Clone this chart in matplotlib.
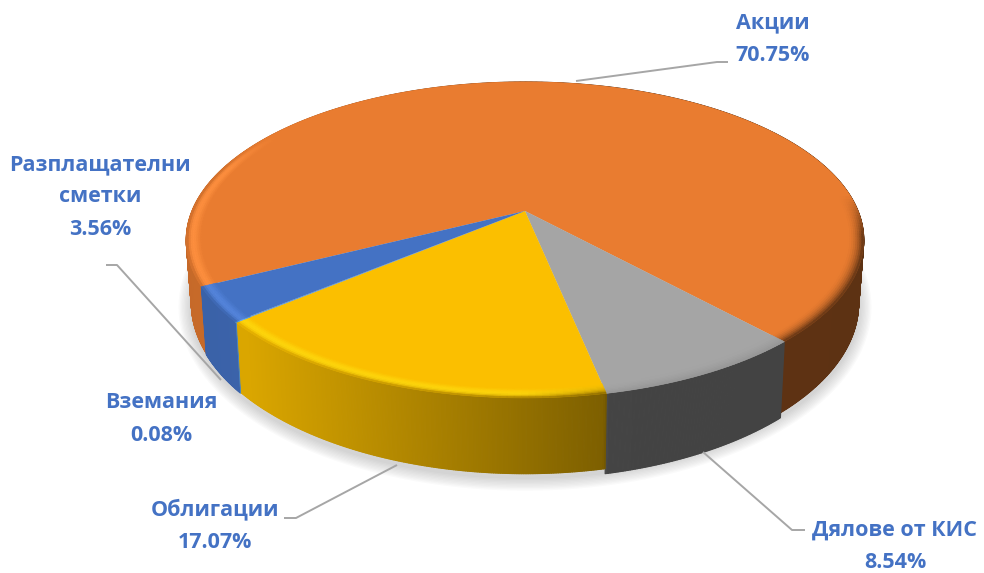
import numpy as np
import matplotlib
matplotlib.use("Agg")
import matplotlib.pyplot as plt
from matplotlib.collections import PolyCollection
from matplotlib.colors import to_rgb

names = ['Акции', 'Дялове от КИС', 'Облигации', 'Вземания', 'Разплащателни\nсметки']
values = [70.75, 8.54, 17.07, 0.08, 3.56]
colors = ['#E97C30', '#A5A5A5', '#FBBF00', '#5B9BD5', '#4472C4']

start_angle = 243.0   # clockwise from the back of the pie
label_pos = [(773, 39), (895, 546), (215, 526), (161, 419), (100, 197)]
leaders = [
    [(576, 81), (717, 62), (728, 62)],
    [(703, 452), (792, 530), (805, 530)],
    [(397, 465), (296, 518), (284, 518)],
    None,
    [(221, 380), (117, 265), (106, 265)],
]
wall_extra = [-1, 4, -1, 0, 0]
bevel_amount = [1.0, 0.15, 1.0, 1.0, 1.0]

plt.rcParams['font.family'] = ['Open Sans', 'DejaVu Sans']

# perspective of the disc: far side is narrower, apex sits above ellipse centre
k = 0.1835


def rim(theta, r=1.0, bottom=False):
    t = np.radians(theta)
    u, v = r * np.sin(t), r * np.cos(t)
    w = 1 + k * v
    if bottom:
        return 525 + 328 * u / w, 272.6 - 165 * v / w
    return 525 + 333 * u / w, 211 - 152.7 * v / w


def wall_shade(x):
    return np.interp(x - 525, [-340, -280, 78, 84, 340], [0.85, 0.87, 0.5, 0.41, 0.40])


def angles(i, per_deg=1):
    return np.linspace(edges[i], edges[i + 1], max(int(values[i] * 3.6 * per_deg), 2) + 1)


fig = plt.figure(figsize=(9.84, 5.73), dpi=100)
ax = fig.add_axes([0, 0, 1, 1])
ax.set_xlim(0, 984)
ax.set_ylim(573, 0)
ax.axis('off')

# soft shadow under the pie
th = np.linspace(0, 360, 361)
sx, sy = rim(th, bottom=True)
for grow in np.linspace(1.0, 13, 10):
    px = 525 + (sx - 525) * (1 + grow / 340)
    py = 300 + (sy - 300) * (1 + grow / 175) + 3
    ax.fill(px, py, color='#7f7f7f', alpha=0.035, lw=0, zorder=1)

edges = start_angle + np.cumsum([0] + values) * 3.6

# side walls
for i, c in enumerate(colors):
    base = np.array(to_rgb(c))
    th = angles(i, 4)
    xt, yt = rim(th)
    xb, yb = rim(th, bottom=True)
    yb = yb + wall_extra[i]
    polys, faces = [], []
    for j in range(len(th) - 1):
        polys.append([(xt[j], yt[j]), (xt[j + 1], yt[j + 1]), (xb[j + 1], yb[j + 1]), (xb[j], yb[j])])
        faces.append(base * wall_shade((xt[j] + xt[j + 1]) / 2))
    ax.add_collection(PolyCollection(polys, facecolors=faces, edgecolors=faces, linewidths=0.8, zorder=2 + 0.1 * i))

# top face
for i, c in enumerate(colors):
    xt, yt = rim(angles(i))
    ax.fill(np.r_[525, xt], np.r_[211, yt], color=c, lw=0, zorder=3)

# rounded edge of the top face
bands = np.linspace(0.955, 1.0, 9)
for i, c in enumerate(colors):
    base = np.array(to_rgb(c))
    light = np.clip(base * 1.06 + 0.05, 0, 1)
    th = angles(i)
    polys, faces = [], []
    for r0, r1 in zip(bands[:-1], bands[1:]):
        x0, y0 = rim(th, r0)
        x1, y1 = rim(th, r1)
        for j in range(len(th) - 1):
            cos_mid = np.cos(np.radians((th[j] + th[j + 1]) / 2))
            xm = (x0[j] + x0[j + 1]) / 2
            t = ((r0 + r1) / 2 - bands[0]) / (1 - bands[0])
            dark = base * wall_shade(xm)
            # highlight on the left and front, darkening on the right
            a = base + (light - base) * np.sin(np.pi * t ** 1.5) * np.clip((0.55 - cos_mid) * 4, 0, 1)
            a = a + (dark - a) * t ** 6 * np.clip((0.55 - cos_mid) * 4, 0, 1)
            b = base + (dark - base) * t ** 2 * np.clip((0.1 - cos_mid) * 4, 0, 1)
            g = np.clip((640 - xm) / 120, 0, 1)
            col = g * a + (1 - g) * b
            col = base + (col - base) * bevel_amount[i]
            polys.append([(x0[j], y0[j]), (x0[j + 1], y0[j + 1]), (x1[j + 1], y1[j + 1]), (x1[j], y1[j])])
            faces.append(np.clip(col, 0, 1))
    ax.add_collection(PolyCollection(polys, facecolors=faces, edgecolors=faces, linewidths=0.4, zorder=4))

# leader lines and labels
for line in leaders:
    if line is not None:
        ax.plot(*zip(*line), color='#A6A6A6', lw=1.4, zorder=5, solid_capstyle='butt')

for name, val, pos in zip(names, values, label_pos):
    ax.text(pos[0], pos[1], f"{name}\n{val:.2f}%", ha='center', va='center', fontsize=15.5,
            fontweight='bold', color='#4472C4', linespacing=1.7, zorder=6)

fig.savefig('out.png', dpi=100)
